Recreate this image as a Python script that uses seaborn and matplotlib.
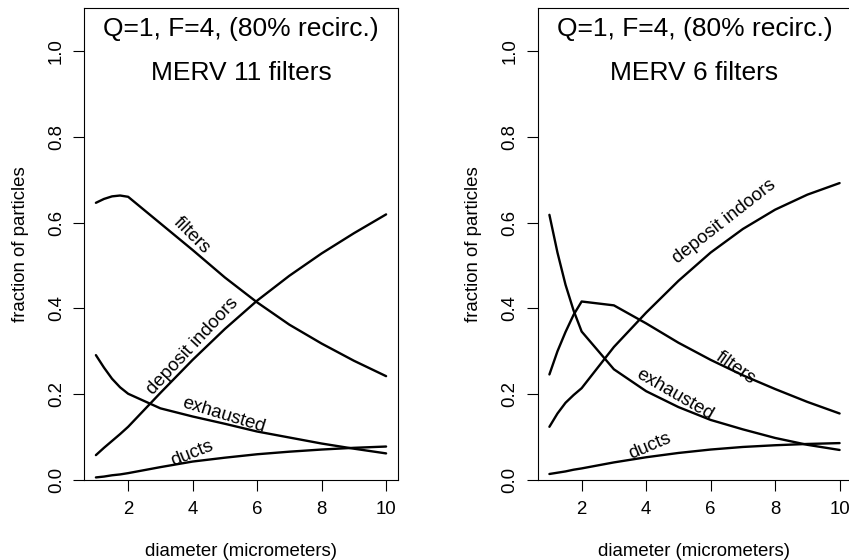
import matplotlib
matplotlib.use("Agg")
import matplotlib.pyplot as plt
import seaborn as sns
import pandas as pd

# ---- data ----
diameter = [1, 1.25, 1.5, 1.75, 2, 3, 4, 5, 6, 7, 8, 9, 10]

merv11_filters = [0.646, 0.655, 0.661, 0.663, 0.660, 0.598, 0.536, 0.472, 0.414, 0.362, 0.318, 0.278, 0.242]
merv11_deposit = [0.058, 0.075, 0.091, 0.107, 0.124, 0.203, 0.280, 0.352, 0.418, 0.476, 0.528, 0.575, 0.619]
merv11_exhausted = [0.291, 0.262, 0.236, 0.216, 0.201, 0.167, 0.148, 0.131, 0.113, 0.099, 0.085, 0.073, 0.062]
merv11_ducts = [0.006, 0.008, 0.011, 0.013, 0.016, 0.030, 0.043, 0.052, 0.060, 0.066, 0.071, 0.075, 0.078]

merv6_filters = [0.246, 0.300, 0.345, 0.385, 0.416, 0.407, 0.365, 0.320, 0.280, 0.244, 0.212, 0.182, 0.155]
merv6_deposit = [0.124, 0.155, 0.180, 0.198, 0.214, 0.310, 0.390, 0.464, 0.530, 0.585, 0.630, 0.665, 0.692]
merv6_exhausted = [0.618, 0.530, 0.455, 0.395, 0.346, 0.258, 0.207, 0.170, 0.140, 0.118, 0.098, 0.082, 0.070]
merv6_ducts = [0.014, 0.017, 0.020, 0.024, 0.027, 0.041, 0.053, 0.063, 0.071, 0.077, 0.081, 0.084, 0.086]

titles_top = ["Q=1, F=4, (80% recirc.)", "Q=1, F=4, (80% recirc.)"]
titles_sub = ["MERV 11 filters", "MERV 6 filters"]
x_ticks = [2, 4, 6, 8, 10]
y_ticks = [0.0, 0.2, 0.4, 0.6, 0.8, 1.0]
y_tick_labels = ["0.0", "0.2", "0.4", "0.6", "0.8", "1.0"]

# label placements (x, y, rotation) per panel
labels_11 = [("filters", 3.96, 0.569, -45), ("deposit indoors", 4.0, 0.312, 47),
             ("exhausted", 4.97, 0.150, -17), ("ducts", 4.0, 0.061, 22)]
labels_6 = [("deposit indoors", 6.42, 0.602, 38), ("filters", 6.76, 0.262, -35),
            ("exhausted", 4.9, 0.200, -30), ("ducts", 4.12, 0.078, 23)]

sns.set_style("white")
plt.rcParams['font.family'] = ['Liberation Sans', 'DejaVu Sans']
plt.rcParams['text.color'] = 'black'
plt.rcParams['axes.labelcolor'] = 'black'
plt.rcParams['xtick.color'] = 'black'
plt.rcParams['ytick.color'] = 'black'

fig = plt.figure(figsize=(8.49, 5.6), dpi=100)
W, H = 849, 560
axL = fig.add_axes([84.3 / W, 80 / H, 313.4 / W, 472 / H])
axR = fig.add_axes([537.8 / W, 80 / H, 313.4 / W, 472 / H])

panels = [
    (axL, [merv11_filters, merv11_deposit, merv11_exhausted, merv11_ducts], labels_11, 0),
    (axR, [merv6_filters, merv6_deposit, merv6_exhausted, merv6_ducts], labels_6, 1),
]

FS = 13.4
for ax, series, labs, i in panels:
    names = ["filters", "deposit", "exhausted", "ducts"]
    df = pd.DataFrame({"d": diameter * 4,
                       "frac": [v for s in series for v in s],
                       "series": [n for n in names for _ in diameter]})
    for n in names:
        sub = df[df["series"] == n]
        sns.lineplot(data=sub, x="d", y="frac", color="black", linewidth=1.7,
                     estimator=None, sort=False, ax=ax, legend=False)
    ax.set_xlim(0.64, 10.36)
    ax.set_ylim(0, 1.1)
    ax.set_xticks(x_ticks)
    ax.set_xticklabels([str(t) for t in x_ticks], fontsize=FS)
    ax.set_yticks(y_ticks)
    ax.set_yticklabels(y_tick_labels, fontsize=FS, rotation=90, va="center")
    ax.tick_params(axis="both", direction="out", length=7.9, width=0.8, color="black",
                   bottom=True, left=True, labelcolor="black")
    ax.tick_params(axis="x", pad=7)
    ax.tick_params(axis="y", pad=6)
    for sp in ax.spines.values():
        sp.set_visible(True)
        sp.set_color("black")
        sp.set_linewidth(0.8)
    ax.set_xlabel("diameter (micrometers)", fontsize=FS, labelpad=18, color="black")
    ax.set_ylabel("fraction of particles", fontsize=FS, labelpad=14, color="black")
    ax.text(5.5, 1.051, titles_top[i], ha="center", va="center", fontsize=19, color="black")
    ax.text(5.5, 0.949, titles_sub[i], ha="center", va="center", fontsize=19, color="black")
    for txt, x, y, rot in labs:
        ax.text(x, y, txt, ha="center", va="center", rotation=rot,
                rotation_mode="anchor", fontsize=FS, color="black")

fig.savefig("out.png", dpi=100, facecolor="white")
